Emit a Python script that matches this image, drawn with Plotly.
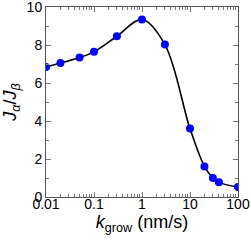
import plotly.graph_objects as go

k_grow = [0.01, 0.02, 0.05, 0.1, 0.3, 1, 3, 10, 20, 30, 40, 100]
ratio = [6.84, 7.05, 7.34, 7.64, 8.46, 9.34, 8.02, 3.6, 1.61, 1.0, 0.77, 0.52]
x_ticks = [0.01, 0.1, 1, 10, 100]
x_tick_labels = ["0.01", "0.1", "1", "10", "100"]

fig = go.Figure()
fig.add_trace(go.Scatter(x=k_grow, y=ratio, mode="lines",
                         line=dict(color="black", width=1.6, shape="spline", smoothing=1.0),
                         hoverinfo="skip"))
fig.add_trace(go.Scatter(x=k_grow, y=ratio, mode="markers",
                         marker=dict(color="#0000ff", size=8, line=dict(width=0))))

axis_common = dict(showgrid=False, zeroline=False, showline=True, mirror="allticks",
                   linecolor="#555555", linewidth=1, ticks="inside", tickcolor="#777777",
                   ticklen=5, tickwidth=1, ticklabeloverflow="allow", automargin=False,
                   tickfont=dict(family="Liberation Sans, Arial", size=14, color="black"))

fig.update_layout(
    width=251, height=242,
    margin=dict(l=46, r=13, t=7, b=45),
    paper_bgcolor="white", plot_bgcolor="white",
    showlegend=False, hovermode=False,
    xaxis=dict(type="log", range=[-2, 2], tickvals=x_ticks, ticktext=x_tick_labels,
               ticklabelstandoff=-6,
               minor=dict(ticks="inside", ticklen=3, tickcolor="#777777",
                          tickvals=[v * m for v in [0.01, 0.1, 1, 10] for m in range(2, 10)]),
               title=dict(text="<i>k</i><sub>grow</sub> (nm/s)", standoff=0,
                          font=dict(family="Liberation Sans, Arial", size=18, color="black")),
               **axis_common),
    yaxis=dict(range=[0, 10], tickvals=[0, 2, 4, 6, 8, 10],
               minor=dict(ticks="inside", ticklen=3, tickcolor="#777777", dtick=1),
               title=dict(text="<i>J</i><sub><i>α</i></sub>/<i>J</i><sub><i>β</i></sub>", standoff=6,
                          font=dict(family="Liberation Sans, Arial", size=18, color="black")),
               **axis_common),
)

fig.write_html("out.html", config={"displayModeBar": False, "staticPlot": True},
               post_script="document.body.style.margin='0';")
